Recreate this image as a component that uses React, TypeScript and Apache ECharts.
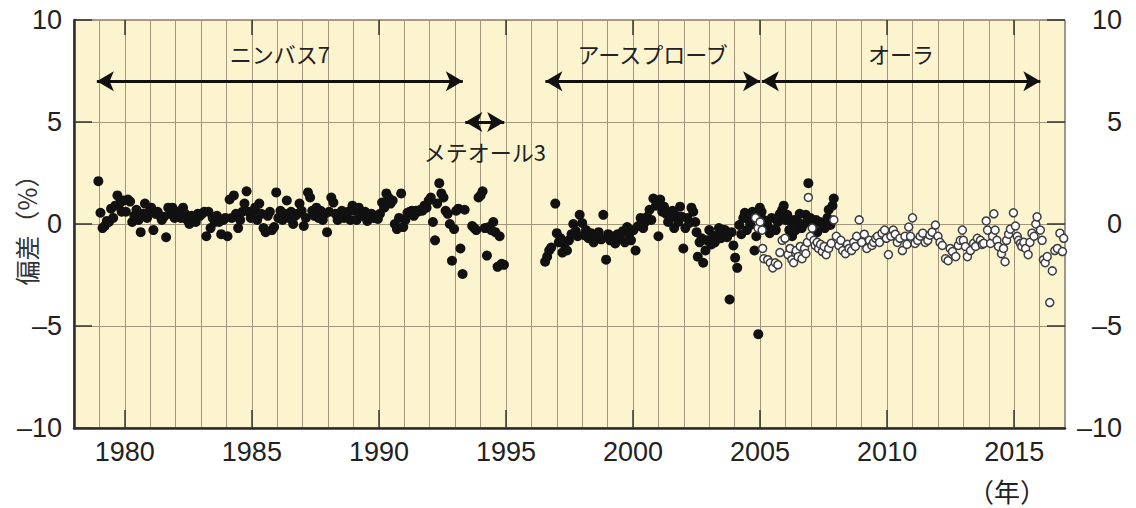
import React, { useEffect, useRef } from "react";
import * as echarts from "echarts";

const X_MIN = 1978;
const X_MAX = 2017;
const Y_MIN = -10;
const Y_MAX = 10;
const majorYears = [1980, 1985, 1990, 1995, 2000, 2005, 2010, 2015];

// Nimbus 7 monthly deviations, starting December 1978
const nimbus7StartYear = 1978;
const nimbus7StartMonth = 11; // 0-based: December
const nimbus7Values = [
  2.1,
  0.55, -0.2, -0.1, 0.15, 0.1, 0.75, 0.3, 0.9, 1.4, 1.0, 0.6, 1.15,
  0.6, 1.2, 1.1, 0.1, 0.4, 0.7, 0.2, -0.4, 0.5, 1.0, 0.3, 0.6,
  0.8, -0.3, 0.5, 0.6, 0.4, 0.2, 0.35, -0.65, 0.8, 0.5, 0.8, 0.3,
  0.5, 0.6, 0.3, 0.8, 0.5, 0.2, 0.0, 0.4, 0.3, 0.1, 0.5, 0.4,
  0.5, 0.6, -0.6, 0.6, -0.2, 0.3, 0.1, 0.4, 0.1, -0.5, 0.2, 0.3,
  -0.6, 1.2, 0.3, 1.4, 0.5, -0.2, 0.2, 0.6, 1.0, 1.6, 0.6, 0.3,
  0.6, 0.8, 0.2, 1.0, 0.5, -0.2, -0.4, 0.4, 0.6, -0.3, -0.15, 1.55,
  0.3, 0.65, 0.2, 0.5, 1.15, 0.3, 0.6, 0.0, 0.4, 0.5, 1.0, 0.65,
  -0.1, 0.3, 1.55, 1.3, 0.65, 0.4, 0.8, 0.3, 0.65, 0.2, 0.5, -0.4,
  0.6, 1.3, 1.05, 0.5, 0.2, 0.35, 0.65, 0.3, 0.4, 0.6, 0.2, 0.9,
  0.65, 0.2, 0.8, 0.5, 0.4, 0.6, 0.15, 0.3, 0.5, 0.3, 0.4, 0.25,
  0.5, 1.05, 0.8, 1.5, 1.3, 1.0, 1.15, 0.0, -0.25, 0.3, 1.5, -0.15,
  0.2, 0.55, 0.6, 0.65, 0.4, 0.65, 0.6, 0.7, 0.65, 0.9, 0.8, 1.15,
  1.3, 0.1, -0.8, 1.0, 2.0, 1.5, 1.3, 0.65, 0.5, 0.0, -1.8, -0.25,
  0.65, 0.75, -1.2, -2.45, 0.7,
];

const meteor3Points = [
  [1993.67, -0.1], [1993.75, -0.2], [1993.83, -0.3], [1993.92, 1.3],
  [1994.0, 1.4], [1994.08, 1.6], [1994.17, -0.2], [1994.25, -1.55],
  [1994.33, -0.15], [1994.42, -0.3], [1994.5, 0.1], [1994.58, -0.4],
  [1994.67, -2.1], [1994.75, -0.6], [1994.83, -1.95], [1994.92, -2.0],
];

const earthProbePoints = [
  [1996.54, -1.85], [1996.62, -1.6], [1996.7, -1.3], [1996.78, -1.15], [1996.94, 1.0],
  [1997.0, -0.45], [1997.08, -0.9], [1997.15, -0.7], [1997.22, -1.4], [1997.3, -1.0],
  [1997.4, -1.3], [1997.48, -0.8], [1997.58, -0.5], [1997.65, 0.0], [1997.75, -0.35],
  [1997.82, -0.6], [1997.9, 0.45], [1998.0, 0.05], [1998.08, -0.55], [1998.15, -0.3],
  [1998.25, -0.7], [1998.35, -0.45], [1998.45, -0.9], [1998.55, -0.6], [1998.65, -0.4],
  [1998.75, -0.75], [1998.83, 0.45], [1998.94, -1.75], [1999.02, -0.5], [1999.1, -0.8],
  [1999.2, -0.6], [1999.3, -0.95], [1999.4, -0.5], [1999.5, -0.7], [1999.6, -0.35],
  [1999.68, -0.9], [1999.77, -0.15], [1999.85, -0.5], [1999.92, -0.8], [2000.02, -0.3],
  [2000.1, -1.3], [2000.2, -0.1], [2000.3, 0.3], [2000.4, -0.2], [2000.48, 0.1],
  [2000.56, 0.35], [2000.65, 0.7], [2000.72, 0.2], [2000.8, 1.25], [2000.9, 0.9],
  [2001.0, -0.6], [2001.07, 1.2], [2001.15, 0.6], [2001.22, 0.85], [2001.3, 0.5],
  [2001.38, 0.1], [2001.46, 0.3], [2001.55, 0.65], [2001.62, -0.2], [2001.7, 0.4],
  [2001.78, 0.1], [2001.85, 0.85], [2001.92, 0.35], [2001.98, -1.2], [2002.06, -0.2],
  [2002.14, 0.3], [2002.22, 0.05], [2002.3, 0.8], [2002.37, 0.6], [2002.45, 0.1],
  [2002.5, -0.4], [2002.55, -1.6], [2002.62, -0.9], [2002.7, -0.7], [2002.76, -1.9],
  [2002.85, -1.3], [2002.92, -0.8], [2003.0, -0.3], [2003.08, -1.0], [2003.15, -0.6],
  [2003.22, -0.9], [2003.3, -0.55], [2003.38, -0.2], [2003.46, -0.7], [2003.55, -0.3],
  [2003.62, -0.3], [2003.7, -0.65], [2003.8, -3.7], [2003.88, -0.4], [2003.95, -1.05],
  [2004.02, -1.65], [2004.1, -2.15], [2004.18, -0.05], [2004.26, -0.5], [2004.34, 0.3],
  [2004.4, 0.55], [2004.48, -0.3], [2004.55, 0.2], [2004.62, -0.05], [2004.7, 0.6],
  [2004.78, -1.3], [2004.85, -0.6], [2004.93, -5.4], [2004.99, 0.8], [2005.06, 0.6],
  [2005.14, 0.2], [2005.22, -0.1], [2005.3, -0.1], [2005.38, -0.45], [2005.46, 0.3],
  [2005.54, -0.3], [2005.62, -0.3], [2005.7, 0.1], [2005.78, 0.5], [2005.87, 0.7],
  [2005.93, 0.9], [2006.0, 0.2], [2006.07, 0.45], [2006.15, -0.3], [2006.22, 0.1],
  [2006.26, -0.6], [2006.34, 0.2], [2006.4, -0.3], [2006.48, 0.1], [2006.56, 0.5],
  [2006.64, -0.2], [2006.72, 0.0], [2006.8, 0.45], [2006.9, 2.0], [2006.97, 0.3],
  [2007.05, 0.0], [2007.13, -0.3], [2007.2, 0.2], [2007.25, -0.4], [2007.35, 0.1],
  [2007.45, 0.0], [2007.55, -0.2], [2007.65, 0.3], [2007.7, 0.7], [2007.77, -0.05],
  [2007.85, 0.9], [2007.9, 1.25],
];

const auraPoints = [
  [2004.82, 0.3], [2004.92, -0.2], [2005.0, 0.1], [2005.08, -0.3], [2005.1, -1.2],
  [2005.15, -1.7], [2005.3, -1.75], [2005.4, -1.9], [2005.5, -2.15], [2005.6, -1.9],
  [2005.7, -2.0], [2005.78, -1.4], [2005.87, -0.8], [2005.98, -0.7], [2006.1, -1.5],
  [2006.18, -1.2], [2006.25, -1.75], [2006.32, -1.9], [2006.42, -1.3], [2006.5, -1.6],
  [2006.58, -1.1], [2006.65, -1.7], [2006.75, -1.2], [2006.8, -1.45], [2006.86, -0.9],
  [2006.9, 1.3], [2006.98, -0.6], [2007.05, -0.2], [2007.12, -0.8], [2007.17, -1.05],
  [2007.25, -0.9], [2007.3, -1.2], [2007.38, -1.0], [2007.45, -1.35], [2007.52, -1.1],
  [2007.6, -1.5], [2007.7, -1.2], [2007.8, -0.95], [2007.9, 0.2], [2008.0, -0.6],
  [2008.1, -1.05], [2008.18, -0.8], [2008.25, -1.3], [2008.36, -1.45], [2008.44, -1.0],
  [2008.5, -1.2], [2008.6, -1.3], [2008.68, -0.9], [2008.75, -1.1], [2008.8, -0.6],
  [2008.9, 0.2], [2009.0, -0.9], [2009.1, -0.5], [2009.2, -1.2], [2009.3, -0.8],
  [2009.4, -1.05], [2009.47, -0.9], [2009.55, -0.7], [2009.62, -0.6], [2009.7, -0.9],
  [2009.8, -0.45], [2009.9, -0.3], [2009.97, -0.7], [2010.05, -1.5], [2010.15, -0.6],
  [2010.24, -0.3], [2010.32, -0.5], [2010.4, -0.9], [2010.5, -0.7], [2010.6, -1.3],
  [2010.7, -0.6], [2010.78, -1.0], [2010.85, -0.15], [2010.92, -0.6], [2011.0, 0.3],
  [2011.1, -0.95], [2011.2, -0.8], [2011.3, -0.6], [2011.4, -0.45], [2011.5, -0.9],
  [2011.6, -0.8], [2011.68, -0.55], [2011.77, -0.4], [2011.9, -0.05], [2012.0, -0.6],
  [2012.08, -0.9], [2012.17, -1.05], [2012.3, -1.7], [2012.4, -1.8], [2012.48, -1.2],
  [2012.57, -1.35], [2012.7, -1.6], [2012.8, -1.05], [2012.88, -0.8], [2012.96, -0.3],
  [2013.0, -0.8], [2013.08, -1.1], [2013.16, -1.6], [2013.28, -1.3], [2013.4, -0.95],
  [2013.48, -1.1], [2013.55, -0.7], [2013.67, -0.8], [2013.74, -1.0], [2013.8, -0.95],
  [2013.9, 0.15], [2013.95, -0.3], [2014.07, -0.95], [2014.15, -0.6], [2014.2, 0.5],
  [2014.25, -0.3], [2014.32, -0.8], [2014.38, -1.1], [2014.5, -1.45], [2014.58, -1.2],
  [2014.64, -1.85], [2014.7, -0.8], [2014.78, -0.5], [2014.85, -0.25], [2014.97, 0.55],
  [2015.05, -0.1], [2015.12, -0.6], [2015.17, -0.8], [2015.25, -0.95], [2015.3, -1.1],
  [2015.38, -0.9], [2015.45, -1.2], [2015.55, -1.5], [2015.62, -0.9], [2015.7, -0.45],
  [2015.78, -0.6], [2015.85, 0.0], [2015.9, 0.35], [2016.03, -0.3], [2016.1, -0.8],
  [2016.15, -1.75], [2016.22, -1.9], [2016.3, -1.6], [2016.4, -3.85], [2016.5, -2.3],
  [2016.6, -1.3], [2016.7, -1.2], [2016.8, -0.45], [2016.9, -1.35], [2016.95, -0.7],
];

// Instrument periods (arrows)
const periodNames = ["ニンバス7", "メテオール3", "アースプローブ", "オーラ"];
const periodStarts = [1978.9, 1993.4, 1996.55, 2005.07];
const periodEnds = [1993.3, 1994.93, 2005.0, 2016.03];
const periodLevels = [7, 5, 7, 7];
const periodLabelBelow = [false, true, false, false];

const FONT_NUM = "'Liberation Sans', Arial, Helvetica, sans-serif";
const FONT_JP = "'Noto Sans CJK JP', 'Noto Sans', sans-serif";

export default function App() {
  const ref = useRef<HTMLDivElement>(null);

  useEffect(() => {
    if (!ref.current) return;
    const chart = echarts.init(ref.current, undefined, { renderer: "svg" });

    const nimbusData = nimbus7Values.map((v, i) => [
      nimbus7StartYear + (nimbus7StartMonth + i + 0.5) / 12,
      v,
    ]);

    const yFmt = (v: number) => (v < 0 ? "\u2013" + Math.abs(v) : String(v));

    const markLineData = periodNames.map((name, i) => [
      {
        coord: [periodStarts[i], periodLevels[i]],
        label: {
          show: true,
          formatter: name,
          position: periodLabelBelow[i] ? "insideMiddleBottom" : "insideMiddleTop",
          distance: periodLabelBelow[i] ? 18 : 17,
          fontSize: 22,
          fontFamily: FONT_JP,
          color: "#222",
        },
      },
      { coord: [periodEnds[i], periodLevels[i]] },
    ]);

    const tickAxisCommon = {
      type: "value",
      min: X_MIN,
      max: X_MAX,
      interval: 1,
      axisLine: { show: false, onZero: false },
      axisLabel: { show: false },
      splitLine: { show: false },
    };

    chart.setOption({
      animation: false,
      grid: {
        left: 74,
        right: 71,
        top: 20,
        bottom: 80,
        containLabel: false,
        outerBoundsMode: "none",
        show: true,
        backgroundColor: "#fcf3cf",
        borderColor: "#3a3a3a",
        borderWidth: 1,
      },
      xAxis: [
        {
          type: "value",
          min: X_MIN,
          max: X_MAX,
          interval: 1,
          position: "bottom",
          axisLine: { show: true, onZero: false, lineStyle: { color: "#2a2a2a", width: 2.5 } },
          axisTick: { show: false },
          splitLine: { show: true, lineStyle: { color: "#a3967a", width: 1 } },
          axisLabel: {
            formatter: (v: number) => (majorYears.includes(v) ? String(v) : ""),
            fontSize: 27,
            fontFamily: FONT_NUM,
            color: "#222",
            margin: 10,
          },
        },
        {
          ...tickAxisCommon,
          position: "top",
          axisTick: {
            show: true,
            inside: true,
            length: 15,
            customValues: majorYears,
            lineStyle: { color: "#333", width: 1.5 },
          },
        },
        {
          ...tickAxisCommon,
          position: "bottom",
          axisTick: {
            show: true,
            inside: true,
            length: 18,
            customValues: majorYears,
            lineStyle: { color: "#333", width: 1.5 },
          },
        },
      ],
      yAxis: [
        {
          type: "value",
          min: Y_MIN,
          max: Y_MAX,
          interval: 5,
          position: "left",
          name: "偏差（%）",
          nameLocation: "middle",
          nameGap: 36,
          nameMoveOverlap: false,
          nameTextStyle: { fontSize: 25, fontFamily: FONT_JP, color: "#333" },
          axisLine: { show: true, onZero: false, lineStyle: { color: "#2a2a2a", width: 2.5 } },
          axisTick: { show: true, inside: true, length: 18, lineStyle: { color: "#333", width: 1.5 } },
          splitLine: { show: true, lineStyle: { color: "#a3967a", width: 1 } },
          axisLabel: {
            formatter: yFmt,
            fontSize: 27,
            fontFamily: FONT_NUM,
            color: "#222",
            margin: 12,
          },
        },
        {
          type: "value",
          min: Y_MIN,
          max: Y_MAX,
          interval: 5,
          position: "right",
          axisLine: { show: false, onZero: false },
          axisTick: { show: true, inside: true, length: 18, lineStyle: { color: "#333", width: 1.5 } },
          splitLine: { show: false },
          axisLabel: {
            formatter: yFmt,
            fontSize: 27,
            fontFamily: FONT_NUM,
            color: "#222",
            align: "right",
            margin: 57,
          },
        },
      ],
      series: [
        {
          name: "ニンバス7",
          type: "scatter",
          xAxisIndex: 0,
          yAxisIndex: 0,
          data: nimbusData,
          symbolSize: 10,
          itemStyle: { color: "#111", opacity: 1 },
          markLine: {
            silent: true,
            symbol: ["arrow", "arrow"],
            symbolSize: [15, 17],
            lineStyle: { color: "#111", width: 3, type: "solid", opacity: 1 },
            itemStyle: { color: "#111" },
            label: { show: true },
            data: markLineData,
          },
        },
        {
          name: "メテオール3",
          type: "scatter",
          data: meteor3Points,
          symbolSize: 10,
          itemStyle: { color: "#111", opacity: 1 },
        },
        {
          name: "アースプローブ",
          type: "scatter",
          data: earthProbePoints,
          symbolSize: 10,
          itemStyle: { color: "#111", opacity: 1 },
        },
        {
          name: "オーラ",
          type: "scatter",
          data: auraPoints,
          symbolSize: 8,
          itemStyle: { color: "#ffffff", borderColor: "#3d3d3d", borderWidth: 1.5, opacity: 1 },
        },
      ],
      graphic: [
        {
          type: "text",
          x: 1007,
          y: 490,
          style: {
            text: "（年）",
            fontSize: 26,
            fontFamily: FONT_JP,
            fill: "#222",
            textAlign: "center",
            textVerticalAlign: "middle",
          },
        },
      ],
    });

    return () => chart.dispose();
  }, []);

  return (
    <div
      ref={ref}
      style={{ position: "fixed", left: 0, top: 0, width: 1136, height: 508, background: "#fff" }}
    />
  );
}
